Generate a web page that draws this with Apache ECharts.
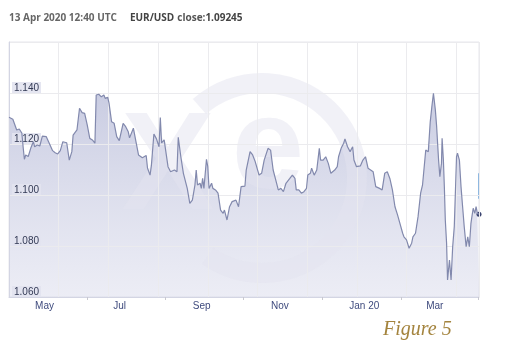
<!DOCTYPE html>
<html><head><meta charset="utf-8">
<script src="https://cdn.jsdelivr.net/npm/echarts@6/dist/echarts.min.js"></script>
<style>html,body{margin:0;padding:0;background:#fff}#c{width:510px;height:359px}</style>
</head><body><div id="c"></div>
<script>
const dates = [
'2019-04-13','2019-04-16','2019-04-19','2019-04-21','2019-04-23','2019-04-24','2019-04-25','2019-04-26','2019-04-28','2019-04-30',
'2019-05-02','2019-05-03','2019-05-05','2019-05-07','2019-05-09','2019-05-12','2019-05-15','2019-05-17','2019-05-19','2019-05-21','2019-05-23','2019-05-25','2019-05-28','2019-05-30',
'2019-06-01','2019-06-02','2019-06-05','2019-06-07','2019-06-09','2019-06-11','2019-06-13','2019-06-15','2019-06-17','2019-06-19','2019-06-20','2019-06-22','2019-06-24','2019-06-26','2019-06-27','2019-06-29','2019-06-30',
'2019-07-02','2019-07-04','2019-07-06','2019-07-08','2019-07-11','2019-07-13','2019-07-15','2019-07-16','2019-07-19','2019-07-21','2019-07-23','2019-07-26','2019-07-29','2019-07-30',
'2019-08-01','2019-08-02','2019-08-04','2019-08-06','2019-08-08','2019-08-09','2019-08-10','2019-08-12','2019-08-15','2019-08-17','2019-08-20','2019-08-22','2019-08-23','2019-08-25','2019-08-27','2019-08-30',
'2019-09-01','2019-09-03','2019-09-05','2019-09-06','2019-09-07','2019-09-09','2019-09-10','2019-09-11','2019-09-12','2019-09-14','2019-09-15','2019-09-16','2019-09-18','2019-09-19','2019-09-21','2019-09-23','2019-09-25','2019-09-27','2019-09-28','2019-09-30',
'2019-10-02','2019-10-04','2019-10-07','2019-10-09','2019-10-11','2019-10-14','2019-10-15','2019-10-18','2019-10-20','2019-10-22','2019-10-25','2019-10-27','2019-10-29',
'2019-11-01','2019-11-03','2019-11-05','2019-11-07','2019-11-09','2019-11-11','2019-11-13','2019-11-15','2019-11-18','2019-11-20','2019-11-22','2019-11-23','2019-11-25','2019-11-27','2019-11-29',
'2019-12-01','2019-12-02','2019-12-04','2019-12-05','2019-12-07','2019-12-09','2019-12-11','2019-12-12','2019-12-14','2019-12-16','2019-12-18','2019-12-20','2019-12-23','2019-12-25','2019-12-26','2019-12-28','2019-12-30','2019-12-31',
'2020-01-02','2020-01-04','2020-01-06','2020-01-07','2020-01-09','2020-01-12','2020-01-14','2020-01-16','2020-01-18','2020-01-20','2020-01-22','2020-01-24','2020-01-27','2020-01-29','2020-01-31',
'2020-02-02','2020-02-04','2020-02-06','2020-02-08','2020-02-10','2020-02-11','2020-02-14','2020-02-15','2020-02-17','2020-02-19','2020-02-21','2020-02-22','2020-02-24','2020-02-26','2020-02-28','2020-02-29 12:00',
'2020-03-03','2020-03-05','2020-03-06 12:00','2020-03-07 18:00','2020-03-09','2020-03-10 12:00','2020-03-11 12:00','2020-03-13','2020-03-14','2020-03-15 06:00','2020-03-15 18:00','2020-03-16 18:00','2020-03-17 12:00','2020-03-18 06:00','2020-03-19 06:00','2020-03-20','2020-03-21 12:00','2020-03-22 18:00','2020-03-24','2020-03-25 06:00','2020-03-26','2020-03-27','2020-03-27 18:00','2020-03-29 06:00','2020-03-30 12:00','2020-03-31 18:00',
'2020-04-02','2020-04-03 12:00','2020-04-04 18:00','2020-04-06','2020-04-07 06:00','2020-04-08','2020-04-09','2020-04-10 06:00','2020-04-11 06:00','2020-04-12 06:00','2020-04-13 12:40'
];
const rates = [
1.1305,1.1297,1.1255,1.1259,1.1243,1.1189,1.1140,1.1157,1.1151,1.1184,
1.1209,1.1189,1.1196,1.1192,1.1231,1.1229,1.1196,1.1174,1.1166,1.1161,1.1174,1.1209,1.1205,1.1137,
1.1170,1.1235,1.1255,1.1340,1.1323,1.1320,1.1275,1.1222,1.1216,1.1203,1.1392,1.1395,1.1385,1.1392,1.1379,1.1383,1.1360,
1.1287,1.1281,1.1229,1.1213,1.1281,1.1268,1.1248,1.1224,1.1262,1.1209,1.1157,1.1146,1.1155,1.1106,
1.1078,1.1114,1.1239,1.1220,1.1189,1.1304,1.1204,1.1216,1.1111,1.1091,1.1098,1.1091,1.1226,1.1150,1.1085,1.1026,
1.0967,1.0980,1.1039,1.1098,1.1039,1.1046,1.1026,1.1065,1.1026,1.1140,1.1111,1.1026,1.1046,1.1026,1.1020,1.1007,1.0941,1.0928,1.0941,1.0902,
1.0954,1.0974,1.0980,1.0954,1.1033,1.1035,1.1098,1.1170,1.1157,1.1131,1.1078,1.1085,1.1137,
1.1183,1.1176,1.1098,1.1059,1.1020,1.1026,1.1013,1.1046,1.1065,1.1078,1.1065,1.1020,1.1020,1.1007,1.1013,
1.1026,1.1078,1.1085,1.1105,1.1078,1.1098,1.1183,1.1137,1.1137,1.1150,1.1124,1.1085,1.1098,1.1111,1.1150,1.1183,1.1203,1.1220,
1.1189,1.1170,1.1189,1.1137,1.1111,1.1114,1.1137,1.1150,1.1105,1.1098,1.1091,1.1033,1.1026,1.1020,1.1085,
1.1091,1.1065,1.1020,1.0954,1.0922,1.0915,1.0850,1.0836,1.0824,1.0791,1.0811,1.0836,1.0850,1.0915,1.1007,1.1040,
1.1176,1.1170,1.1287,1.1346,1.1399,1.1333,1.1268,1.1137,1.1072,1.1124,1.1222,1.1137,1.1033,1.0902,1.0811,1.0667,1.0745,1.0667,1.0797,1.0876,1.0993,1.1150,1.1164,1.1137,1.1033,1.0954,
1.0876,1.0797,1.0836,1.0797,1.0889,1.0915,1.0948,1.0928,1.0954,1.0928,1.09245
];
const monthLabelDates = ['2019-05-01','2019-07-01','2019-09-01','2019-11-01','2020-01-01','2020-03-01'];
const monthLabels = ['May','Jul','Sep','Nov','Jan 20','Mar'];
const tickDates = ['2019-06-13','2019-08-13','2019-10-13','2019-12-13','2020-02-13','2020-04-13'];
const yTicks = [1.06, 1.08, 1.10, 1.12, 1.14];
const rangeStart = '2019-04-13';
const rangeEnd = '2020-04-13 12:40';
const headerTime = '13 Apr 2020 12:40 UTC';
const pairName = 'EUR/USD';
const closeLabel = 'close:';
const closeValue = '1.09245';
const figureCaption = 'Figure 5';

function ts(s){
  const parts = s.split(' ');
  const [y,m,d] = parts[0].split('-').map(Number);
  let hh = 0, mm = 0;
  if (parts[1]) { [hh, mm] = parts[1].split(':').map(Number); }
  return new Date(y, m-1, d, hh, mm).getTime();
}
const seriesData = dates.map((d,i) => [ts(d), rates[i]]);
const monthTs = monthLabelDates.map(ts);
const lastPoint = seriesData[seriesData.length-1];

const chart = echarts.init(document.getElementById('c'), null, {renderer:'canvas'});
const wm = '#e3e4f0';
const wmOpacity = 0.5;
chart.setOption({
  animation: false,
  backgroundColor: '#fff',
  title: [{
    left: 9, top: 13, padding: 0,
    text: '{t|' + headerTime + '}{b|' + pairName + '}{n|' + closeLabel + '}{c|' + closeValue + '}',
    textStyle: { rich: {
      t: { fontFamily: 'Open Sans', fontSize: 10, color: '#666', padding: [0, 13, 0, 0] },
      b: { fontFamily: 'Open Sans', fontSize: 10, fontWeight: 'bold', color: '#444', padding: [0, 3, 0, 0] },
      n: { fontFamily: 'Open Sans', fontSize: 10, color: '#555' },
      c: { fontFamily: 'Open Sans', fontSize: 10, fontWeight: 'bold', color: '#444' }
    }}
  },{
    left: 383, top: 320, padding: 0,
    text: figureCaption,
    textStyle: { fontFamily: 'Liberation Serif', fontStyle: 'italic', fontWeight: 'normal', fontSize: 20, color: '#a4843e' }
  }],
  grid: { left: 9, right: 31, top: 42, bottom: 62, show: true, borderColor: '#e6e6ec', borderWidth: 1, outerBoundsMode: 'none' },
  xAxis: [{
    type: 'value', min: ts(rangeStart), max: ts(rangeEnd), z: 10,
    axisLine: { show: true, lineStyle: { color: '#d3d5e3' } },
    axisTick: { show: true, length: 3, customValues: tickDates.map(ts), lineStyle: { color: '#c8c8d0' } },
    splitLine: { show: false },
    axisLabel: {
      customValues: monthTs, align: 'left', margin: 4, padding: [0,0,0,3],
      fontFamily: 'Liberation Sans', fontSize: 10, color: '#3f4b7e',
      formatter: v => { const i = monthTs.indexOf(v); return i >= 0 ? monthLabels[i] : ''; }
    }
  },{
    type: 'value', min: 0, max: 9.457, interval: 1, z: 9,
    axisLine: { show: false }, axisTick: { show: false }, axisLabel: { show: false },
    splitLine: { show: true, lineStyle: { color: '#ebebee' } }
  }],
  yAxis: {
    type: 'value', min: 1.06, max: 1.16, interval: 0.02, z: 10,
    axisLine: { show: true, lineStyle: { color: '#d3d5e3' } },
    axisTick: { show: false },
    splitLine: { show: true, lineStyle: { color: '#ebebee' } },
    axisLabel: {
      inside: true, margin: 3, verticalAlign: 'bottom', customValues: yTicks,
      formatter: v => v.toFixed(3),
      fontFamily: 'Liberation Sans', fontSize: 10, color: '#333a55',
      backgroundColor: 'rgba(226,227,239,0.9)', padding: [1,2,0,2]
    }
  },
  graphic: { elements: [
    { type: 'arc', z: 5, silent: true,
      shape: { cx: 262, cy: 178, r: 95, startAngle: -2.29, endAngle: 2.18, clockwise: true },
      style: { stroke: wm, lineWidth: 20, fill: null, opacity: wmOpacity } },
    { type: 'text', z: 5, silent: true,
      style: { text: 'X', x: 168, y: 170, font: 'bold 140px "Liberation Sans"', align: 'center', verticalAlign: 'middle', fill: wm, opacity: wmOpacity } },
    { type: 'text', z: 5, silent: true,
      style: { text: 'e', x: 268, y: 152, font: 'bold 130px "Liberation Sans"', align: 'center', verticalAlign: 'middle', fill: wm, opacity: wmOpacity } }
  ]},
  series: [{
    type: 'line', name: 'area', data: seriesData, z: 2, showSymbol: false, silent: true,
    lineStyle: { width: 0 },
    areaStyle: { color: new echarts.graphic.LinearGradient(0,0,0,1,[{offset:0,color:'rgba(168,173,208,0.62)'},{offset:1,color:'rgba(205,207,229,0.38)'}]), opacity: 1 }
  },{
    type: 'line', name: 'EUR/USD', data: seriesData, z: 12, showSymbol: false,
    lineStyle: { width: 1.2, color: '#8289ad' },
    markPoint: { symbol: 'circle', symbolSize: 5, label: { show: false }, itemStyle: { color: '#3b4470' },
      data: [{ coord: lastPoint }] },
    markLine: { symbol: 'none', silent: true, label: { show: false }, lineStyle: { color: '#8fb8e0', width: 2, type: 'solid' },
      data: [[{ coord: [lastPoint[0], 1.0985] }, { coord: [lastPoint[0], 1.1085] }]] }
  }]
});
</script></body></html>
